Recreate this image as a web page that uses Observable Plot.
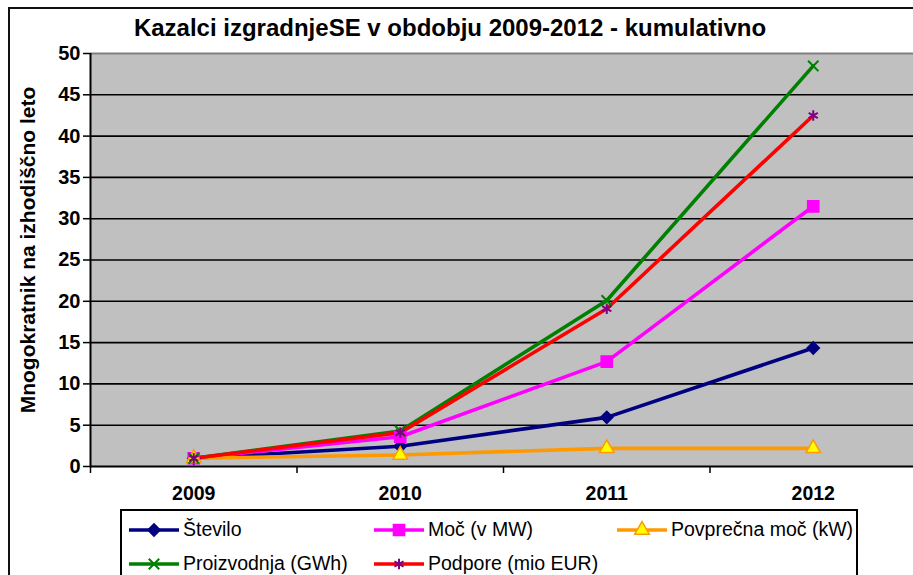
<!DOCTYPE html>
<html>
<head>
<meta charset="utf-8">
<script src="https://cdn.jsdelivr.net/npm/d3@7"></script>
<script src="https://cdn.jsdelivr.net/npm/@observablehq/plot@0.6"></script>
<style>
  html, body { margin: 0; padding: 0; background: #fff; overflow: hidden; }
  #wrap { position: relative; width: 913px; height: 575px; overflow: hidden; font-family: Arial, "Liberation Sans", sans-serif; }
  #frame { position: absolute; left: 8px; top: 7px; width: 940px; height: 600px; border: 2px solid #111; }
  #title { position: absolute; left: 0; width: 900px; top: 14px; text-align: center; font-weight: bold; font-size: 24px; color: #000; }
  #ytitle { position: absolute; left: 28px; top: 250px; transform: translate(-50%, -50%) rotate(-90deg); font-weight: bold; font-size: 21px; white-space: nowrap; color: #000; }
  #chart { position: absolute; left: 0; top: 0; width: 916px; }
  #chart svg { max-width: none !important; }
  #legend { position: absolute; left: 120px; top: 509px; width: 734px; height: 100px; border: 2px solid #000; background: #fff; }
  .item { position: absolute; display: flex; align-items: center; font-size: 19.5px; color: #000; white-space: nowrap; }
  .item svg { margin-right: 4px; }
</style>
</head>
<body>
<div id="wrap">
  <div id="frame"></div>
  <div id="chart"></div>
  <div id="title">Kazalci izgradnjeSE v obdobju 2009-2012 - kumulativno</div>
  <div id="ytitle"></div>
  <div id="legend"></div>
</div>
<script>
const years = [2009, 2010, 2011, 2012];
const seriesNames = ["Število", "Moč (v MW)", "Povprečna moč (kW)", "Proizvodnja (GWh)", "Podpore (mio EUR)"];
const stevilo = [1, 2.45, 5.95, 14.35];
const moc = [1, 3.6, 12.7, 31.5];
const povprecnaMoc = [1, 1.4, 2.2, 2.2];
const proizvodnja = [1, 4.3, 20.1, 48.5];
const podpore = [1, 4.1, 19.1, 42.5];
const yTicks = [0, 5, 10, 15, 20, 25, 30, 35, 40, 45, 50];
const yTitle = "Mnogokratnik na izhodiščno leto";

document.getElementById("ytitle").textContent = yTitle;

const seriesValues = [stevilo, moc, povprecnaMoc, proizvodnja, podpore];
const styles = [
  {line: "#000080", symbol: "diamond2", fill: "#000080", stroke: "#000080", r: 5.5},
  {line: "#FF00FF", symbol: "square", fill: "#FF00FF", stroke: "#FF00FF", r: 6.3},
  {line: "#FF9900", symbol: "triangle", fill: "#FFFF00", stroke: "#FF9900", r: 5.4},
  {line: "#008000", symbol: "times", fill: "none", stroke: "#008000", r: 4.8},
  {line: "#FF0000", symbol: "asterisk", fill: "none", stroke: "#800080", r: 5}
];

const rows = [];
seriesNames.forEach((name, i) => {
  years.forEach((yr, j) => rows.push({series: name, idx: i, year: yr, value: seriesValues[i][j]}));
});

const marks = [
  Plot.frame({fill: "#C0C0C0", stroke: null}),
  Plot.gridY(yTicks.filter(t => t > 0 && t < 50), {stroke: "#000", strokeOpacity: 1, strokeWidth: 1.6}),
  Plot.ruleY([50], {stroke: "#808080", strokeWidth: 2}),
  Plot.ruleY([0], {stroke: "#000", strokeWidth: 2}),
  Plot.ruleX([2008.5], {stroke: "#000", strokeWidth: 2}),
  Plot.axisY({ticks: yTicks, tickSize: 7, tickPadding: 3, fontSize: 20, fontWeight: "bold", stroke: "#000", strokeWidth: 1.5, label: null}),
  Plot.axisX({ticks: [2008.5, 2009.5, 2010.5, 2011.5], tickSize: 7, tickFormat: () => "", stroke: "#000", strokeWidth: 1.5, label: null}),
  Plot.axisX({ticks: years, tickSize: 0, tickPadding: 20, tickFormat: d => String(d), fontSize: 19.5, fontWeight: "bold", label: null})
];
seriesNames.forEach((name, i) => {
  const data = rows.filter(d => d.idx === i);
  const s = styles[i];
  marks.push(Plot.line(data, {x: "year", y: "value", stroke: s.line, strokeWidth: 3.6}));
});
seriesNames.forEach((name, i) => {
  const data = rows.filter(d => d.idx === i);
  const s = styles[i];
  marks.push(Plot.dot(data, {x: "year", y: "value", symbol: () => s.symbol, r: s.r, fill: s.fill, stroke: s.stroke,
    strokeWidth: (s.fill === "none") ? 2 : 1.5}));
});

const chart = Plot.plot({
  width: 916,
  height: 575,
  marginLeft: 90,
  marginRight: 0,
  marginTop: 53,
  marginBottom: 109,
  style: {fontFamily: "Arial, 'Liberation Sans', sans-serif", background: "transparent", color: "#000", overflow: "visible", maxWidth: "none"},
  x: {domain: [2008.5, 2012.5], axis: null},
  y: {domain: [0, 50], axis: null},
  symbol: {type: "identity"},
  marks
});
document.getElementById("chart").appendChild(chart);

// legend
const legend = document.getElementById("legend");
const pos = [[7, 7], [252, 7], [495, 7], [7, 41], [252, 41]];
const symbolMap = {diamond2: d3.symbolDiamond2, square: d3.symbolSquare, triangle: d3.symbolTriangle, times: d3.symbolTimes, asterisk: d3.symbolAsterisk};
seriesNames.forEach((name, i) => {
  const s = styles[i];
  const div = document.createElement("div");
  div.className = "item";
  div.style.left = pos[i][0] + "px";
  div.style.top = pos[i][1] + "px";
  const path = d3.symbol(symbolMap[s.symbol], Math.PI * s.r * s.r)();
  div.innerHTML = `<svg width="50" height="22"><line x1="0" x2="50" y1="11" y2="11" stroke="${s.line}" stroke-width="3.6"/>` +
    `<path transform="translate(25,11)" d="${path}" fill="${s.fill}" stroke="${s.stroke}" stroke-width="${s.fill === 'none' ? 2 : 1.5}"/></svg><span>${name}</span>`;
  legend.appendChild(div);
});
</script>
</body>
</html>
